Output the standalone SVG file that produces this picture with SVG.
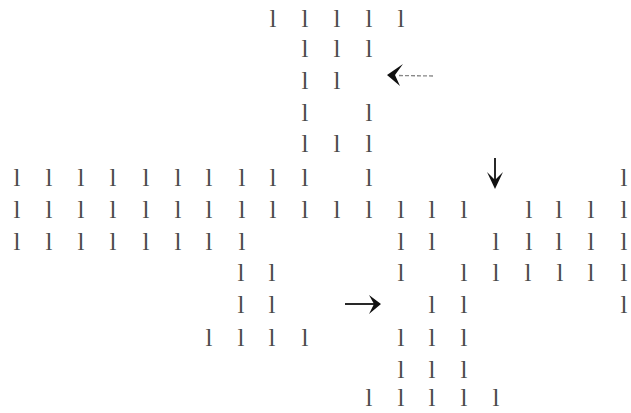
<svg xmlns="http://www.w3.org/2000/svg" width="631" height="413" viewBox="0 0 631 413">
<style>
text{font-family:"Liberation Serif","DejaVu Serif",serif;font-size:25px;fill:#4a4a4a;text-anchor:middle}
.ar{stroke:#111;stroke-width:1.8;fill:none}
.tl{stroke:#888;stroke-width:1.3;fill:none;stroke-dasharray:4 2}
.hd{fill:#111;stroke:none}
</style>
<rect width="631" height="413" fill="#fff"/>
<g id="glyphs">
<g id="r1"><text x="273" y="27">l</text><text x="305" y="27">l</text><text x="337" y="27">l</text><text x="369" y="27">l</text><text x="401" y="27">l</text></g>
<g id="r2"><text x="305" y="57">l</text><text x="337" y="57">l</text><text x="369" y="57">l</text></g>
<g id="r3"><text x="305" y="89">l</text><text x="337" y="89">l</text></g>
<g id="r4"><text x="305" y="121">l</text><text x="369" y="121">l</text></g>
<g id="r5"><text x="305" y="152">l</text><text x="337" y="152">l</text><text x="369" y="152">l</text></g>
<g id="r6"><text x="17" y="186">l</text><text x="49" y="186">l</text><text x="81" y="186">l</text><text x="113" y="186">l</text><text x="146" y="186">l</text><text x="178" y="186">l</text><text x="209" y="186">l</text><text x="242" y="186">l</text><text x="273" y="186">l</text><text x="305" y="186">l</text><text x="369" y="186">l</text><text x="624" y="186">l</text></g>
<g id="r7"><text x="17" y="218">l</text><text x="49" y="218">l</text><text x="81" y="218">l</text><text x="113" y="218">l</text><text x="146" y="218">l</text><text x="178" y="218">l</text><text x="209" y="218">l</text><text x="242" y="218">l</text><text x="273" y="218">l</text><text x="305" y="218">l</text><text x="337" y="218">l</text><text x="369" y="218">l</text><text x="401" y="218">l</text><text x="432" y="218">l</text><text x="464" y="218">l</text><text x="529" y="218">l</text><text x="559" y="218">l</text><text x="591" y="218">l</text><text x="624" y="218">l</text></g>
<g id="r8"><text x="17" y="250">l</text><text x="49" y="250">l</text><text x="81" y="250">l</text><text x="113" y="250">l</text><text x="146" y="250">l</text><text x="178" y="250">l</text><text x="209" y="250">l</text><text x="242" y="250">l</text><text x="401" y="250">l</text><text x="432" y="250">l</text><text x="496" y="250">l</text><text x="529" y="250">l</text><text x="559" y="250">l</text><text x="591" y="250">l</text><text x="624" y="250">l</text></g>
<g id="r9"><text x="241" y="281">l</text><text x="272" y="281">l</text><text x="401" y="281">l</text><text x="464" y="281">l</text><text x="496" y="281">l</text><text x="528" y="281">l</text><text x="560" y="281">l</text><text x="591" y="281">l</text><text x="624" y="281">l</text></g>
<g id="r10"><text x="241" y="313">l</text><text x="272" y="313">l</text><text x="432" y="313">l</text><text x="464" y="313">l</text><text x="624" y="313">l</text></g>
<g id="r11"><text x="209" y="346">l</text><text x="241" y="346">l</text><text x="272" y="346">l</text><text x="305" y="346">l</text><text x="401" y="346">l</text><text x="432" y="346">l</text><text x="464" y="346">l</text></g>
<g id="r12"><text x="401" y="378">l</text><text x="432" y="378">l</text><text x="464" y="378">l</text></g>
<g id="r13"><text x="369" y="406">l</text><text x="401" y="406">l</text><text x="432" y="406">l</text><text x="464" y="406">l</text><text x="496" y="406">l</text></g>
</g>
<g id="connectors">
<line class="tl" x1="433" y1="76" x2="398" y2="75.5"/>
<path class="hd" d="M387 75 L403 64 L395 75 L400 86 Z"/>
<line class="ar" x1="495" y1="158" x2="495" y2="182" stroke-width="2.2"/>
<path class="hd" d="M495 189 L487 172 L495 180 L503 172 Z"/>
<line class="ar" x1="345" y1="304" x2="374" y2="304" stroke-width="2"/>
<path class="hd" d="M381 304 L369 295 L374 304 L369 314 Z"/>
</g>
</svg>
